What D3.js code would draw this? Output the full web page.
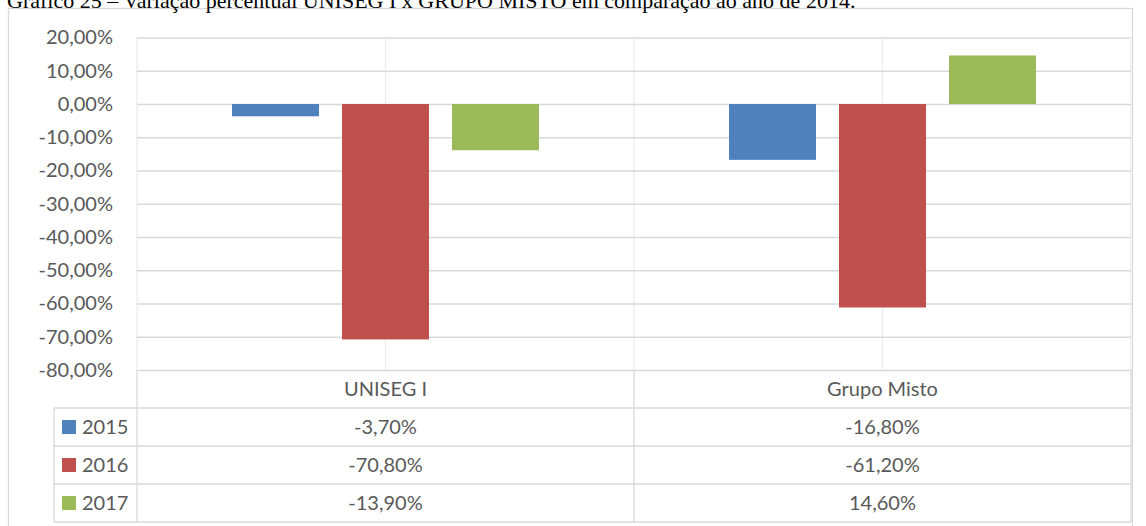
<!DOCTYPE html>
<html>
<head>
<meta charset="utf-8">
<script src="https://cdn.jsdelivr.net/npm/d3@7"></script>
<style>
  body { margin: 0; background: #fff; }
  svg { display: block; }
</style>
</head>
<body>
<div id="chart"></div>
<script>
const categories = ["UNISEG I", "Grupo Misto"];
const years = ["2015", "2016", "2017"];
const values2015 = [-3.7, -16.8];
const values2016 = [-70.8, -61.2];
const values2017 = [-13.9, 14.6];
const yTicks = [20, 10, 0, -10, -20, -30, -40, -50, -60, -70, -80];
const colors = ["#4F81BD", "#C0504D", "#9BBB59"];
const titleText = "Gráfico 25 – Variação percentual UNISEG I x GRUPO MISTO em comparação ao ano de 2014.";

const series = [values2015, values2016, values2017];

const width = 1146, height = 526;
const plot = { left: 137, right: 1131, top: 37.5, bottom: 370 };
const rowH = 38;
const legendLeft = 54;
const fontFam = "Lato, 'Open Sans', sans-serif";
const fontSize = "20px";
const textColor = "#595959";
const gridColor = "#d9d9d9";

const fmt = v => d3.format(".2f")(v).replace(".", ",").replace("−", "-") + "%";

const svg = d3.select("#chart").append("svg")
  .attr("width", width)
  .attr("height", height);

// chart frame
svg.append("rect")
  .attr("x", 8.5).attr("y", 8.5)
  .attr("width", 1124).attr("height", 540)
  .attr("fill", "none")
  .attr("stroke", gridColor)
  .attr("stroke-width", 1.3);

// title (cut off at top in the source)
svg.append("text")
  .attr("x", 7).attr("y", 8)
  .style("font-family", "'Liberation Serif', 'Times New Roman', serif")
  .style("font-size", "22px")
  .style("fill", "#000")
  .text(titleText);

const y = d3.scaleLinear()
  .domain([-80, 20])
  .range([plot.bottom, plot.top]);

const x0 = d3.scaleBand()
  .domain(categories)
  .range([plot.left, plot.right]);

const x1 = d3.scaleBand()
  .domain(years)
  .range([0, x0.bandwidth()])
  .paddingInner(0.209)
  .paddingOuter(0.864);

// vertical gridlines at category edges and centers
const vLines = [plot.left];
categories.forEach(c => {
  vLines.push(x0(c) + x0.bandwidth() / 2);
  vLines.push(x0(c) + x0.bandwidth());
});
svg.append("g")
  .selectAll("line")
  .data(vLines)
  .join("line")
  .attr("x1", d => d).attr("x2", d => d)
  .attr("y1", plot.top).attr("y2", plot.bottom)
  .attr("stroke", "#ededed")
  .attr("stroke-width", 1.3);

// y axis with horizontal gridlines
const yAxis = svg.append("g")
  .attr("transform", `translate(${plot.left},0)`)
  .call(d3.axisLeft(y).tickValues(yTicks).tickSize(-(plot.right - plot.left)).tickPadding(24).tickFormat(fmt));

yAxis.select(".domain").remove();
yAxis.selectAll("line")
  .attr("stroke", gridColor)
  .attr("stroke-width", 1.3);
yAxis.selectAll("text")
  .style("font-family", fontFam)
  .style("font-size", fontSize)
  .style("fill", textColor);

// bars
const barGroups = svg.append("g")
  .selectAll("g")
  .data(categories)
  .join("g")
  .attr("transform", d => `translate(${x0(d)},0)`);

barGroups.selectAll("rect")
  .data((c, ci) => years.map((yr, si) => ({ yr, v: series[si][ci], color: colors[si] })))
  .join("rect")
  .attr("x", d => x1(d.yr))
  .attr("width", x1.bandwidth())
  .attr("y", d => Math.min(y(d.v), y(0)))
  .attr("height", d => Math.abs(y(d.v) - y(0)))
  .attr("fill", d => d.color);

// data table
const table = svg.append("g")
  .style("font-family", fontFam)
  .style("font-size", fontSize)
  .style("fill", textColor);

const tableTop = plot.bottom;
const rowsTop = tableTop + rowH;
const tableBottom = rowsTop + rowH * years.length;

// table horizontal lines
const hLines = [rowsTop];
years.forEach((yr, i) => hLines.push(rowsTop + rowH * (i + 1)));
table.selectAll("line.h")
  .data(hLines)
  .join("line")
  .attr("class", "h")
  .attr("x1", legendLeft).attr("x2", plot.right)
  .attr("y1", d => d).attr("y2", d => d)
  .attr("stroke", gridColor)
  .attr("stroke-width", 1.3);

// table vertical lines
const tvLines = [
  { x: legendLeft, y1: rowsTop },
  { x: plot.left, y1: tableTop },
  { x: x0(categories[1]), y1: tableTop },
  { x: plot.right, y1: tableTop }
];
table.selectAll("line.v")
  .data(tvLines)
  .join("line")
  .attr("class", "v")
  .attr("x1", d => d.x).attr("x2", d => d.x)
  .attr("y1", d => d.y1).attr("y2", tableBottom)
  .attr("stroke", gridColor)
  .attr("stroke-width", 1.3);

// category header
table.selectAll("text.cat")
  .data(categories)
  .join("text")
  .attr("class", "cat")
  .attr("x", d => x0(d) + x0.bandwidth() / 2)
  .attr("y", tableTop + rowH / 2)
  .attr("dy", "0.35em")
  .attr("text-anchor", "middle")
  .text(d => d);

// legend keys + year labels
years.forEach((yr, i) => {
  const cy = rowsTop + rowH * i + rowH / 2;
  table.append("rect")
    .attr("x", 62).attr("y", cy - 7)
    .attr("width", 14).attr("height", 14)
    .attr("fill", colors[i]);
  table.append("text")
    .attr("x", 82).attr("y", cy)
    .attr("dy", "0.35em")
    .text(yr);
  categories.forEach((c, ci) => {
    table.append("text")
      .attr("x", x0(c) + x0.bandwidth() / 2)
      .attr("y", cy)
      .attr("dy", "0.35em")
      .attr("text-anchor", "middle")
      .text(fmt(series[i][ci]));
  });
});
</script>
</body>
</html>
